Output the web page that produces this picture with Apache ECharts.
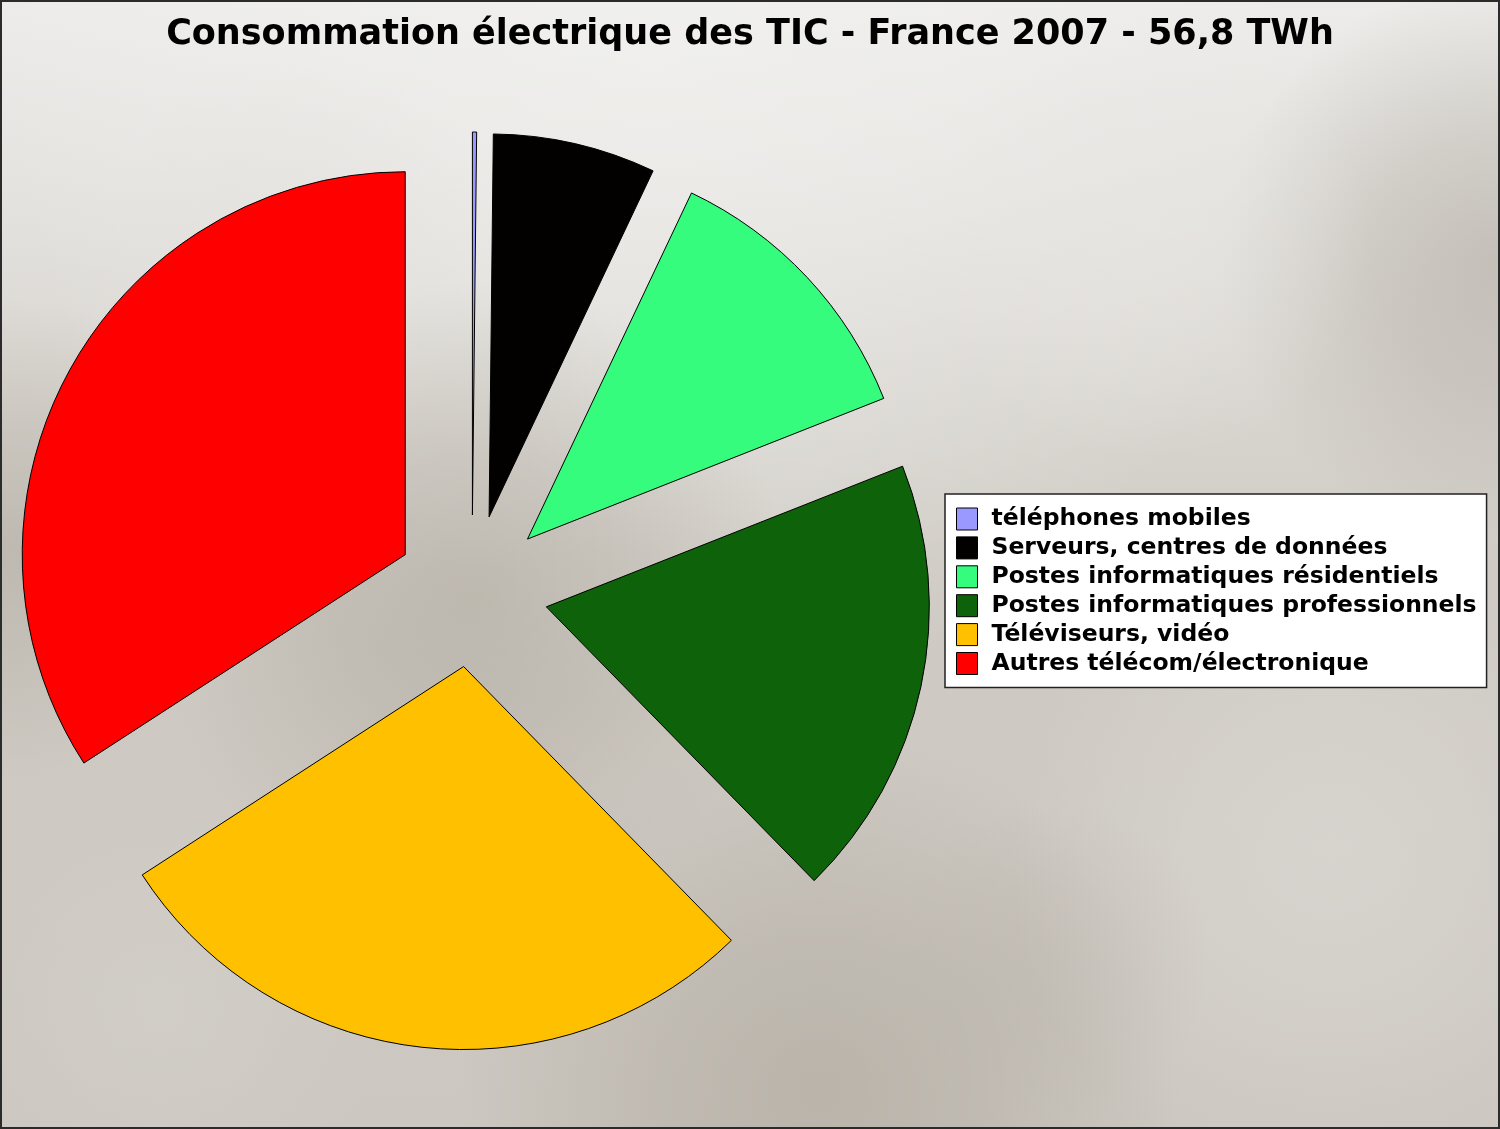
<!DOCTYPE html>
<html>
<head>
<meta charset="utf-8">
<script src="https://cdn.jsdelivr.net/npm/echarts@6/dist/echarts.min.js"></script>
<style>
html,body{margin:0;padding:0;background:#cfcbc4;}
#chart{width:1500px;height:1129px;}
</style>
</head>
<body>
<div id="chart"></div>
<script>
const titleText = 'Consommation électrique des TIC - France 2007 - 56,8 TWh';
const categories = [
  'téléphones mobiles',
  'Serveurs, centres de données',
  'Postes informatiques résidentiels',
  'Postes informatiques professionnels',
  'Téléviseurs, vidéo',
  'Autres télécom/électronique'
];
const valuesTWh = [0.1, 3.9, 6.8, 10.6, 16.0, 19.4];
const colors = ['#9999ff', '#030000', '#35fc7c', '#0d620a', '#ffc000', '#ff0000'];

const chart = echarts.init(document.getElementById('chart'), null, {renderer: 'canvas'});

function blob(x, y, r, rgb, a) {
  return {
    type: 'rect', silent: true, z: -5,
    shape: {x: 0, y: 0, width: 1500, height: 1129},
    style: {
      fill: {
        type: 'radial', x: x, y: y, r: r, global: true,
        colorStops: [
          {offset: 0, color: 'rgba(' + rgb + ',' + a + ')'},
          {offset: 0.45, color: 'rgba(' + rgb + ',' + (a * 0.65) + ')'},
          {offset: 1, color: 'rgba(' + rgb + ',0)'}
        ]
      }
    }
  };
}

const bg = [
  {
    type: 'rect', silent: true, z: -6,
    shape: {x: 0, y: 0, width: 1500, height: 1129},
    style: {
      fill: {
        type: 'linear', x: 0, y: 0, x2: 0, y2: 1,
        colorStops: [
          {offset: 0, color: '#edecea'},
          {offset: 0.15, color: '#e6e4e1'},
          {offset: 0.5, color: '#cfcbc4'},
          {offset: 1, color: '#ccc7c0'}
        ]
      }
    }
  },
  blob(650, 60, 650, '244,244,242', 0.5),
  blob(470, 600, 320, '165,158,146', 0.45),
  blob(820, 1090, 360, '160,153,141', 0.42),
  blob(10, 540, 240, '165,158,146', 0.4),
  blob(1500, 260, 280, '160,154,142', 0.45),
  blob(1150, 240, 220, '232,230,226', 0.5),
  blob(1330, 860, 320, '224,222,218', 0.5),
  blob(160, 1010, 220, '214,211,206', 0.45),
  blob(300, 250, 200, '225,223,219', 0.4),
  blob(1050, 960, 160, '185,179,170', 0.3),
  {
    type: 'rect', silent: true, z: 100,
    shape: {x: 1, y: 1, width: 1498, height: 1127},
    style: {fill: 'none', stroke: '#2b2b2b', lineWidth: 2}
  }
];

const data = categories.map((c, i) => ({
  name: c,
  value: valuesTWh[i],
  selected: true,
  itemStyle: {color: colors[i]}
}));

chart.setOption({
  animation: false,
  color: colors,
  title: {
    text: titleText,
    left: 'center',
    top: 12,
    textStyle: {fontFamily: 'DejaVu Sans', fontWeight: 'bold', fontSize: 35, color: '#000'}
  },
  graphic: {elements: bg},
  legend: {
    orient: 'vertical',
    left: 945,
    top: 494,
    padding: [13, 10, 12, 11],
    backgroundColor: '#ffffff',
    borderColor: '#222',
    borderWidth: 1.5,
    borderRadius: 0,
    itemWidth: 21,
    itemHeight: 22,
    itemGap: 4.9,
    icon: 'rect',
    selectedMode: false,
    itemStyle: {borderColor: '#000', borderWidth: 1},
    textStyle: {fontFamily: 'DejaVu Sans', fontWeight: 'bold', fontSize: 23.5, lineHeight: 22, color: '#000', padding: [0, 0, 0, 9]},
    data: categories
  },
  series: [{
    type: 'pie',
    center: [472, 591],
    radius: [0, 383],
    startAngle: 90,
    clockwise: true,
    selectedMode: 'multiple',
    selectedOffset: 76,
    avoidLabelOverlap: false,
    label: {show: false},
    labelLine: {show: false},
    itemStyle: {borderColor: '#000', borderWidth: 1},
    emphasis: {disabled: true},
    select: {itemStyle: {borderColor: '#000', borderWidth: 1}},
    data: data
  }]
});
</script>
</body>
</html>
